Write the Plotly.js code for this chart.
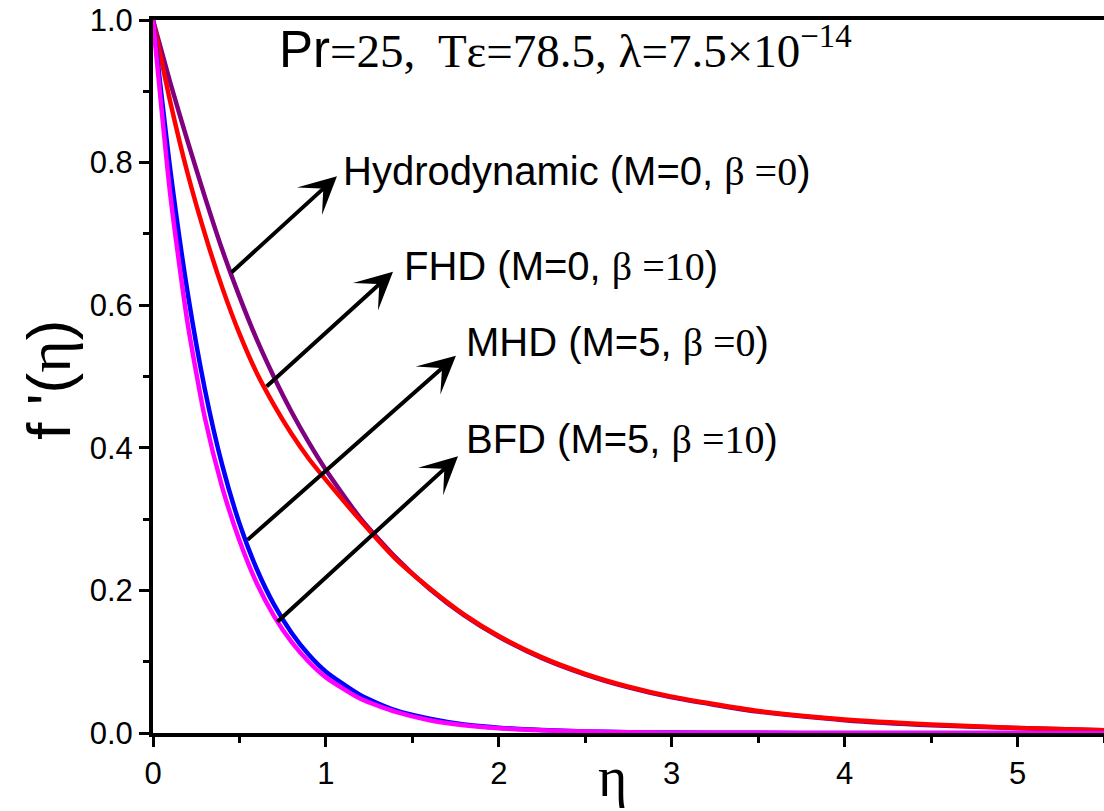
<!DOCTYPE html>
<html>
<head>
<meta charset="utf-8">
<script src="https://cdn.plot.ly/plotly-3.0.1.min.js"></script>
<style>html,body{margin:0;padding:0;background:#fff}#chart{width:1104px;height:811px}</style>
</head>
<body>
<div id="chart"></div>
<script>
// eta grid (x values)
var eta = [0,0.1,0.2,0.3,0.4,0.5,0.6,0.7,0.8,0.9,1.0,1.2,1.4,1.6,1.8,2.0,2.25,2.5,2.75,3.0,3.5,4.0,4.5,5.0,5.5];
// Hydrodynamic (M=0, beta=0)
var hydro = [1.0,0.912,0.830,0.752,0.678,0.612,0.552,0.499,0.451,0.408,0.369,0.301,0.247,0.202,0.165,0.135,0.105,0.082,0.064,0.050,0.030,0.018,0.011,0.007,0.004];
// FHD (M=0, beta=10)
var fhd = [1.0,0.885,0.785,0.700,0.625,0.560,0.505,0.460,0.420,0.385,0.355,0.298,0.245,0.203,0.166,0.136,0.106,0.083,0.065,0.051,0.031,0.019,0.012,0.007,0.004];
// MHD (M=5, beta=0)
var mhd = [1.0,0.790,0.618,0.482,0.376,0.294,0.230,0.180,0.141,0.110,0.086,0.053,0.032,0.020,0.012,0.0075,0.0041,0.0022,0.0012,0.0006,0.0002,0.0001,0,0,0];
// BFD (M=5, beta=10)
var bfd = [1.0,0.755,0.575,0.442,0.345,0.270,0.210,0.164,0.128,0.100,0.078,0.048,0.030,0.018,0.011,0.0068,0.0037,0.002,0.0011,0.0005,0.0002,0.0001,0,0,0];

var xTicks = [0,1,2,3,4,5];
var yTicks = [0,0.2,0.4,0.6,0.8,1.0];
var yTickText = ['0.0','0.2','0.4','0.6','0.8','1.0'];

var SANS = 'Liberation Sans, Arial, sans-serif';
var SERIF = 'Liberation Serif, Times New Roman, serif';

function ln(y, color){
  return {x: eta, y: y, type: 'scatter', mode: 'lines',
          line: {color: color, width: 4.5, shape: 'spline', smoothing: 0.6},
          hoverinfo: 'skip', showlegend: false};
}
var traces = [ln(hydro,'#800080'), ln(fhd,'#ff0000'), ln(mhd,'#0000ff'), ln(bfd,'#ff00ff')];

function arrow(x, y, ax, ay){
  return {x: x, y: y, ax: ax, ay: ay, xref: 'x', yref: 'y', axref: 'x', ayref: 'y',
          text: '', showarrow: true, arrowhead: 3, arrowsize: 1.55, arrowwidth: 4, arrowcolor: '#000'};
}
function label(x, y, a, b, c){
  return {x: x, y: y, xref: 'x', yref: 'y', xanchor: 'left', yanchor: 'middle', showarrow: false,
          font: {family: SANS, size: 40, color: '#000'},
          text: a + '<span style="font-family:Liberation Serif">' + b + '</span>' + c};
}

var annotations = [
  arrow(1.064, 0.781, 0.445, 0.644),
  arrow(1.388, 0.647, 0.648, 0.484),
  arrow(1.752, 0.529, 0.538, 0.269),
  arrow(1.764, 0.388, 0.711, 0.154),
  label(1.09, 0.787, 'Hydrodynamic (M=0, ', 'β =0', ')'),
  label(1.44, 0.654, 'FHD (M=0, ', 'β =10', ')'),
  label(1.80, 0.548, 'MHD (M=5, ', 'β =0', ')'),
  label(1.80, 0.411, 'BFD (M=5, ', 'β =10', ')'),
  {x: 0.715, y: 0.961, xref: 'x', yref: 'y', xanchor: 'left', yanchor: 'middle', showarrow: false,
   font: {family: SERIF, size: 47, color: '#000'},
   text: '<span style="font-family:Liberation Sans;font-size:51px">Pr</span>=25,&nbsp; Tε=78.5, λ=7.5×10<sup>−14</sup>'},
  {x: -0.11, y: 0.496, xref: 'paper', yref: 'paper', xanchor: 'center', yanchor: 'middle', showarrow: false,
   textangle: -90, font: {family: SANS, size: 62, color: '#000'},
   text: 'f \'(<span style="font-family:Liberation Serif">η</span>)'},
  {x: 0.4837, y: -0.062, xref: 'paper', yref: 'paper', xanchor: 'center', yanchor: 'middle', showarrow: false,
   font: {family: SERIF, size: 56, color: '#000'}, text: 'η'}
];

var layout = {
  width: 1104, height: 811,
  margin: {l: 153, r: 0, t: 20, b: 78, pad: 0},
  paper_bgcolor: '#fff', plot_bgcolor: '#fff',
  showlegend: false,
  xaxis: {range: [0, 5.5], tickvals: xTicks, ticktext: xTicks.map(String),
          ticks: 'outside', ticklen: 10, tickwidth: 3, tickcolor: '#000',
          minor: {dtick: 0.5, ticks: 'outside', ticklen: 6, tickwidth: 3, tickcolor: '#000', showgrid: false},
          showline: true, linewidth: 4, linecolor: '#000', mirror: true,
          showgrid: false, zeroline: false,
          tickfont: {family: SANS, size: 31, color: '#000'}},
  yaxis: {range: [0, 1.0], tickvals: yTicks, ticktext: yTickText,
          ticks: 'outside', ticklen: 10, tickwidth: 3, tickcolor: '#000',
          minor: {dtick: 0.1, ticks: 'outside', ticklen: 6, tickwidth: 3, tickcolor: '#000', showgrid: false},
          showline: true, linewidth: 4, linecolor: '#000', mirror: true,
          showgrid: false, zeroline: false,
          tickfont: {family: SANS, size: 31, color: '#000'}},
  annotations: annotations
};

Plotly.newPlot('chart', traces, layout, {displayModeBar: false, staticPlot: true});
</script>
</body>
</html>
